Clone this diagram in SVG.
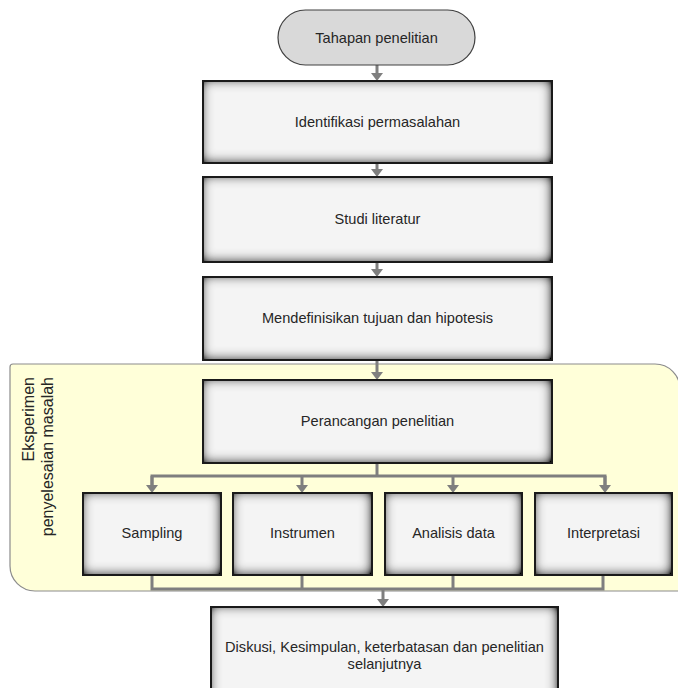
<svg xmlns="http://www.w3.org/2000/svg" width="678" height="688" viewBox="0 0 678 688">
<defs>
<filter id="inner" x="-10%" y="-10%" width="120%" height="120%">
<feFlood flood-color="#000" flood-opacity="1" result="f"/>
<feComposite in="f" in2="SourceAlpha" operator="out" result="frame"/>
<feGaussianBlur in="frame" stdDeviation="6" result="blur"/>
<feOffset in="blur" dx="-1.5" dy="-1.5" result="off"/>
<feComponentTransfer in="off" result="amp"><feFuncA type="linear" slope="1.5"/></feComponentTransfer>
<feComposite in="amp" in2="SourceAlpha" operator="in" result="sh"/>
<feMerge><feMergeNode in="SourceGraphic"/><feMergeNode in="sh"/></feMerge>
</filter>
<marker id="ah" viewBox="0 0 8 12" refX="2" refY="6" markerWidth="8" markerHeight="12" markerUnits="userSpaceOnUse" orient="auto">
<path d="M0,0 L8,6 L0,12 z" fill="#7f7f7f"/>
</marker>
</defs>
<style>
.box{fill:#f4f4f4;filter:url(#inner)}
.bd{fill:none;stroke:#1a1a1a;stroke-width:2}
.t{font-family:"Liberation Sans",Arial,sans-serif;font-size:14.6px;fill:#262626;text-anchor:middle}
.v{font-size:16px;text-anchor:end}
.c{fill:none;stroke:#7f7f7f;stroke-width:3}
.a{marker-end:url(#ah)}
</style>
<rect width="678" height="688" fill="#fff"/>
<g id="group-eksperimen">
<path d="M13,364 L655,364 A25,25 0 0 1 680,389 L680,591 L35,591 A25,25 0 0 1 10,566 L10,367 A3,3 0 0 1 13,364 Z" fill="#ffffd9" stroke="#8c8c8c" stroke-width="1.2"/>
<text class="t v" transform="translate(34,377) rotate(-90)">Eksperimen</text>
<text class="t v" transform="translate(53,377) rotate(-90)">penyelesaian masalah</text>
</g>
<g id="connectors">
<line class="c a" x1="377" y1="65" x2="377" y2="75"/>
<line class="c a" x1="377" y1="163" x2="377" y2="171"/>
<line class="c a" x1="377" y1="262" x2="377" y2="271"/>
<line class="c a" x1="377" y1="360" x2="377" y2="374"/>
<polyline class="c" points="377,463 377,476"/>
<polyline class="c" points="152,487 152,476 605,476 605,487"/>
<line class="c a" x1="152" y1="476" x2="152" y2="487"/>
<line class="c a" x1="302" y1="476" x2="302" y2="487"/>
<line class="c a" x1="453" y1="476" x2="453" y2="487"/>
<line class="c a" x1="605" y1="476" x2="605" y2="487"/>
<polyline class="c" points="152,575 152,589 603,589 603,575"/>
<line class="c" x1="302" y1="575" x2="302" y2="589"/>
<line class="c" x1="453" y1="575" x2="453" y2="589"/>
<line class="c a" x1="383" y1="589" x2="383" y2="601"/>
</g>
<g id="n-tahapan">
<rect x="278" y="10" width="197" height="55" rx="27.5" fill="#d9d9d9" stroke="#404040" stroke-width="1.2"/>
<text class="t" x="376.5" y="42.5">Tahapan penelitian</text>
</g>
<g id="n-identifikasi">
<rect class="box" x="203" y="81" width="349" height="82"/>
<rect class="bd" x="203" y="81" width="349" height="82"/>
<text class="t" x="377.5" y="127">Identifikasi permasalahan</text>
</g>
<g id="n-studi">
<rect class="box" x="203" y="177" width="349" height="85"/>
<rect class="bd" x="203" y="177" width="349" height="85"/>
<text class="t" x="377.5" y="224">Studi literatur</text>
</g>
<g id="n-mendefinisikan">
<rect class="box" x="203" y="277" width="349" height="83"/>
<rect class="bd" x="203" y="277" width="349" height="83"/>
<text class="t" x="377.5" y="323">Mendefinisikan tujuan dan hipotesis</text>
</g>
<g id="n-perancangan">
<rect class="box" x="203" y="380" width="349" height="83"/>
<rect class="bd" x="203" y="380" width="349" height="83"/>
<text class="t" x="377.5" y="426">Perancangan penelitian</text>
</g>
<g id="n-sampling">
<rect class="box" x="83" y="493" width="138" height="82"/>
<rect class="bd" x="83" y="493" width="138" height="82"/>
<text class="t" x="152" y="538">Sampling</text>
</g>
<g id="n-instrumen">
<rect class="box" x="233" y="493" width="139" height="82"/>
<rect class="bd" x="233" y="493" width="139" height="82"/>
<text class="t" x="302.5" y="538">Instrumen</text>
</g>
<g id="n-analisis">
<rect class="box" x="385" y="493" width="137" height="82"/>
<rect class="bd" x="385" y="493" width="137" height="82"/>
<text class="t" x="453.5" y="538">Analisis data</text>
</g>
<g id="n-interpretasi">
<rect class="box" x="535" y="493" width="137" height="82"/>
<rect class="bd" x="535" y="493" width="137" height="82"/>
<text class="t" x="603.5" y="538">Interpretasi</text>
</g>
<g id="n-diskusi">
<rect class="box" x="211" y="607" width="347" height="100"/>
<rect class="bd" x="211" y="607" width="347" height="100"/>
<text class="t" x="384.5" y="652">Diskusi, Kesimpulan, keterbatasan dan penelitian</text>
<text class="t" x="384.5" y="669">selanjutnya</text>
</g>
</svg>
